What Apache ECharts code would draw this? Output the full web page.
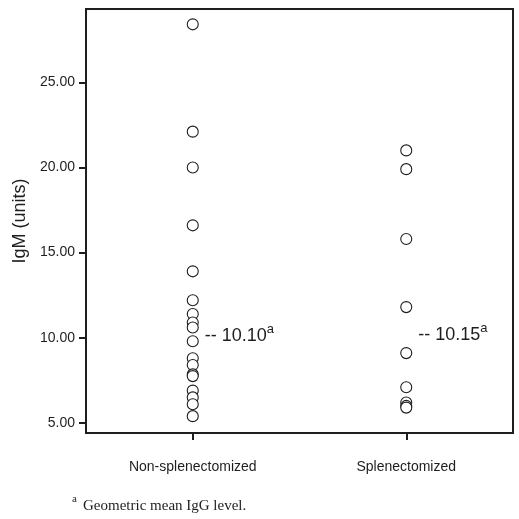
<!DOCTYPE html>
<html>
<head>
<meta charset="utf-8">
<script src="https://cdn.jsdelivr.net/npm/echarts@6/dist/echarts.min.js"></script>
<style>
  html, body { margin: 0; padding: 0; background: #fff; }
  #chart { width: 519px; height: 519px; }
</style>
</head>
<body>
<div id="chart"></div>
<script>
var groups = ["Non-splenectomized", "Splenectomized"];
var nonSplenectomized = [28.4, 22.1, 20.0, 16.6, 13.9, 12.2, 11.4, 10.9, 10.6, 9.8, 8.8, 8.4, 7.85, 7.75, 6.9, 6.5, 6.1, 5.4];
var splenectomized = [21.0, 19.9, 15.8, 11.8, 9.1, 7.1, 6.2, 6.0, 5.9];
var geoMeans = [10.10, 10.15];
var yTicks = [5, 10, 15, 20, 25];

function toPoints(values, idx) {
    return values.map(function (v) { return [idx, v]; });
}

var ink = "#1e1e1e";
var sans = "Liberation Sans, Arial, sans-serif";
var serif = "Liberation Serif, Times New Roman, serif";

var dotStyle = {
    color: "#fff",
    borderColor: ink,
    borderWidth: 1.1,
    opacity: 1
};

var chart = echarts.init(document.getElementById("chart"));
chart.setOption({
    animation: false,
    grid: {
        left: 86, top: 9, right: 6, bottom: 86,
        show: true, borderColor: ink, borderWidth: 2
    },
    xAxis: {
        type: "category",
        data: groups,
        boundaryGap: true,
        axisLine: { show: false },
        axisTick: { show: true, alignWithLabel: true, length: 7, lineStyle: { color: ink, width: 2 } },
        axisLabel: { margin: 27, fontSize: 14, color: ink, fontFamily: sans },
        splitLine: { show: false }
    },
    yAxis: {
        type: "value",
        min: 4.41,
        max: 29.3,
        name: "IgM (units)",
        nameLocation: "middle",
        nameGap: 54,
        nameTextStyle: { fontSize: 18, color: ink, fontFamily: sans },
        axisLine: { show: false },
        axisTick: { show: true, length: 7, customValues: yTicks, lineStyle: { color: ink, width: 2 } },
        axisLabel: {
            customValues: yTicks,
            margin: 11,
            fontSize: 14,
            color: ink,
            fontFamily: sans,
            formatter: function (v) { return v.toFixed(2); }
        },
        splitLine: { show: false }
    },
    graphic: [
        { type: "text", left: 72, top: 494, style: { text: "a", fontSize: 11, fontFamily: serif, fill: ink } },
        { type: "text", left: 83, top: 499, style: { text: "Geometric mean IgG level.", fontSize: 15, fontFamily: serif, fill: ink } }
    ],
    series: [
        {
            type: "scatter",
            data: toPoints(nonSplenectomized, 0),
            symbol: "circle",
            symbolSize: 11,
            itemStyle: dotStyle,
            silent: true
        },
        {
            type: "scatter",
            data: toPoints(splenectomized, 1),
            symbol: "circle",
            symbolSize: 11,
            itemStyle: dotStyle,
            silent: true
        },
        {
            type: "scatter",
            data: geoMeans.map(function (v, i) { return [i, v]; }),
            symbolSize: 0,
            itemStyle: { color: ink, opacity: 1 },
            silent: true,
            label: {
                show: true,
                position: "right",
                distance: 12,
                color: ink,
                textBorderWidth: 0,
                fontFamily: sans,
                formatter: function (p) {
                    return "{t|-- " + p.value[1].toFixed(2) + "}{s|a}";
                },
                rich: {
                    t: { fontSize: 18, color: ink, fontFamily: sans },
                    s: { fontSize: 13, color: ink, fontFamily: sans, padding: [0, 0, 14, 0] }
                }
            }
        }
    ]
});
</script>
</body>
</html>
